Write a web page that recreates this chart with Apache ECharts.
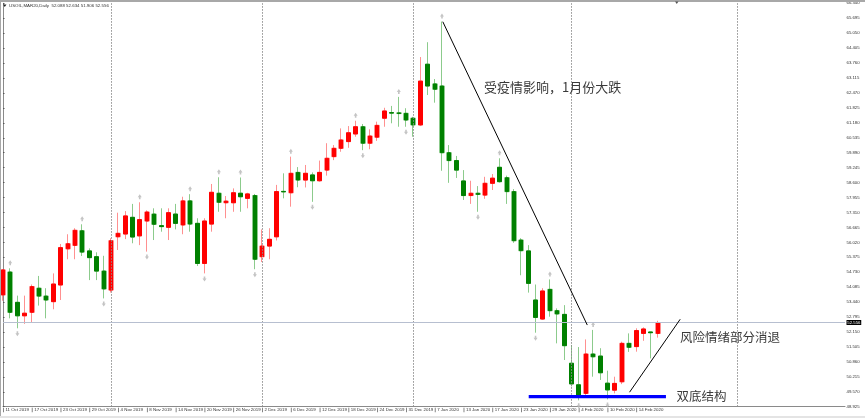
<!DOCTYPE html>
<html><head><meta charset="utf-8">
<script src="https://cdn.jsdelivr.net/npm/echarts@6/dist/echarts.min.js"></script>
<style>html,body{margin:0;padding:0;background:#fff}#c{width:865px;height:418px}</style>
</head><body><div id="c"></div>
<script>
const symbolName = 'USOIL,MAR20,Daily';
const dates = ['11 Oct 2019','14 Oct 2019','15 Oct 2019','16 Oct 2019','17 Oct 2019','18 Oct 2019','21 Oct 2019','22 Oct 2019','23 Oct 2019','24 Oct 2019','25 Oct 2019','28 Oct 2019','29 Oct 2019','30 Oct 2019','31 Oct 2019',
'1 Nov 2019','4 Nov 2019','5 Nov 2019','6 Nov 2019','7 Nov 2019','8 Nov 2019','11 Nov 2019','12 Nov 2019','13 Nov 2019','14 Nov 2019','15 Nov 2019','18 Nov 2019','19 Nov 2019','20 Nov 2019','21 Nov 2019','22 Nov 2019','25 Nov 2019','26 Nov 2019','27 Nov 2019','28 Nov 2019','29 Nov 2019',
'2 Dec 2019','3 Dec 2019','4 Dec 2019','5 Dec 2019','6 Dec 2019','9 Dec 2019','10 Dec 2019','11 Dec 2019','12 Dec 2019','13 Dec 2019','16 Dec 2019','17 Dec 2019','18 Dec 2019','19 Dec 2019','20 Dec 2019','23 Dec 2019','24 Dec 2019','26 Dec 2019','27 Dec 2019','30 Dec 2019','31 Dec 2019',
'2 Jan 2020','3 Jan 2020','6 Jan 2020','7 Jan 2020','8 Jan 2020','9 Jan 2020','10 Jan 2020','13 Jan 2020','14 Jan 2020','15 Jan 2020','16 Jan 2020','17 Jan 2020','20 Jan 2020','21 Jan 2020','22 Jan 2020','23 Jan 2020','24 Jan 2020','27 Jan 2020','28 Jan 2020','29 Jan 2020','30 Jan 2020','31 Jan 2020',
'3 Feb 2020','4 Feb 2020','5 Feb 2020','6 Feb 2020','7 Feb 2020','10 Feb 2020','11 Feb 2020','12 Feb 2020','13 Feb 2020','14 Feb 2020','17 Feb 2020','18 Feb 2020','19 Feb 2020'];
const opens = [53.75,54.74,53.43,52.85,53.00,54.04,53.70,53.46,54.18,55.74,55.89,56.52,55.65,55.40,54.78,
53.96,56.26,56.38,57.10,56.30,56.94,57.24,56.74,56.67,57.24,56.77,57.81,56.84,55.11,56.81,58.14,57.73,57.73,58.14,57.92,58.04,
55.40,55.86,56.26,58.22,58.16,59.04,58.71,58.93,58.68,59.14,59.72,60.08,60.37,60.70,61.01,60.30,60.56,61.38,61.62,61.61,61.59,
61.38,61.09,63.71,62.86,62.77,59.89,59.55,58.67,58.04,58.14,58.06,58.57,59.26,58.81,58.21,56.12,55.65,53.53,52.71,53.99,53.07,52.91,
50.80,49.87,49.50,51.20,51.11,49.94,49.64,50.00,51.66,51.52,52.09,52.15,52.088];
const highs = [54.84,54.90,53.72,53.72,54.20,54.57,54.04,54.68,55.95,56.37,56.63,56.80,55.76,55.59,55.44,
56.20,57.30,57.37,57.68,57.75,57.40,57.49,57.49,57.49,57.68,57.99,58.10,57.06,57.06,58.54,58.83,58.02,58.35,58.82,58.16,58.11,
56.58,56.63,58.50,59.00,59.72,59.27,59.36,59.04,59.55,60.30,60.22,60.94,61.04,61.27,61.13,60.90,61.23,61.83,61.91,62.30,61.81,
61.44,64.02,64.66,63.07,65.55,60.22,59.75,59.14,58.68,58.45,58.85,58.97,59.65,58.90,58.32,56.20,55.90,54.20,54.04,54.42,53.17,53.31,
51.59,51.50,51.83,52.24,51.45,50.48,50.22,51.73,52.09,52.31,52.35,52.16,52.634];
const lows = [53.50,52.74,52.31,52.50,52.57,53.29,52.74,53.13,53.53,55.29,55.29,55.43,54.39,54.39,53.60,
53.85,55.69,56.16,55.98,55.90,55.62,56.12,56.48,56.12,56.58,56.37,56.48,55.00,54.68,56.48,57.34,57.06,57.34,57.34,57.49,54.86,
55.17,55.29,56.10,57.92,57.56,58.40,58.39,57.77,58.64,58.90,59.57,59.93,60.10,60.58,60.00,60.04,60.40,61.01,61.16,61.01,61.01,
60.58,61.04,62.38,62.05,59.11,58.59,58.80,57.85,57.68,57.34,57.90,58.28,58.60,57.68,56.00,54.60,53.85,52.12,52.67,52.81,51.66,50.94,
49.80,49.20,49.43,50.22,50.08,49.24,49.50,49.90,51.29,51.30,51.77,51.01,51.906];
const closes = [54.83,53.00,52.85,52.96,54.11,53.70,53.53,54.22,55.79,55.96,56.54,55.60,55.36,54.78,54.01,
56.09,56.41,57.16,56.25,57.00,57.33,56.80,56.70,57.30,56.84,57.81,56.81,55.11,56.94,58.18,57.75,57.80,58.16,57.99,58.11,55.29,
55.86,56.15,58.21,58.20,59.00,58.71,59.00,58.68,59.04,59.65,60.08,60.44,60.75,61.01,60.30,60.61,61.07,61.69,61.60,61.58,61.30,
61.09,62.98,62.77,62.63,59.89,59.55,59.14,58.04,58.14,58.09,58.57,58.79,58.64,58.21,56.09,55.66,54.25,52.78,53.92,53.07,52.93,51.56,
49.91,49.36,51.20,51.08,50.39,49.65,49.93,51.66,51.49,52.21,52.28,52.12,52.556];
const upFractalIdx = [1,11,19,26,30,33,40,49,55,61,69,76,82];
const downFractalIdx = [2,14,20,28,35,43,50,56,66,74,80,84];
const monthGridIdx = [15,36,57,79,102];
const priceMin = 48.925, priceMax = 66.340, priceStep = 0.645;
const slotCount = 117;
const trendDown = [[61.11,65.545],[81.19,52.45]];
const trendUp = [[87.06,49.55],[94.1,52.70]];
const supportLine = [[73.05,49.357],[92.12,49.357]];

const wickData = dates.map((d,i)=>[i, opens[i], closes[i], lows[i], highs[i]]);
const bodyData = dates.map((d,i)=>[i, opens[i], closes[i], Math.min(opens[i],closes[i]), Math.max(opens[i],closes[i])]);
const last = dates.length - 1;
const titleText = symbolName + '  ' + opens[last].toFixed(3) + ' ' + highs[last].toFixed(3) + ' ' + lows[last].toFixed(3) + ' ' + closes[last].toFixed(3);
const upArrow = 'path://M5,0 L10,6 L7,6 L7,10 L3,10 L3,6 L0,6 Z';
const cjk = '"Noto Sans CJK SC", sans-serif';

const chart = echarts.init(document.getElementById('c'), null, {renderer:'canvas'});
chart.setOption({
  animation:false,
  backgroundColor:'#fff',
  grid:{left:2, right:20, top:3.3, bottom:11.3},
  xAxis:{type:'value', min:0, max:slotCount, interval:4,
    axisLine:{show:true, lineStyle:{color:'#8a8a8a'}},
    axisTick:{show:false},
    splitLine:{show:false},
    axisLabel:{align:'left', margin:1, fontSize:4.4, color:'#333', fontFamily:'Liberation Sans',
      formatter:v=> (v%4===0 && v<dates.length) ? '{t|}{d|'+dates[v]+'}' : '',
      rich:{t:{width:0.8, height:4.5, backgroundColor:'#666'}, d:{fontSize:4.4, color:'#333', padding:[0,0,0,1.6], fontFamily:'Liberation Sans'}}}
  },
  yAxis:{type:'value', position:'right', min:priceMin, max:priceMax, interval:priceStep,
    axisLine:{show:true, lineStyle:{color:'#8a8a8a'}},
    axisTick:{show:true, length:1.5, lineStyle:{color:'#555'}},
    splitLine:{show:false},
    axisLabel:{fontSize:4.3, color:'#333', margin:1.5, fontFamily:'Liberation Sans', formatter:v=>v.toFixed(3)}
  },
  graphic:[
    {type:'rect', shape:{x:0,y:0,width:865,height:2}, style:{fill:'#a8a8a8'}, z:100},
    {type:'rect', shape:{x:0,y:0,width:1,height:418}, style:{fill:'#a8a8a8'}, z:100},
    {type:'rect', shape:{x:0,y:416,width:865,height:2}, style:{fill:'#e4e4e4'}, z:100},
    {type:'polygon', shape:{points:[[3,4.5],[6.5,4.5],[4.75,7]]}, style:{fill:'#222'}, z:100},
    {type:'polygon', shape:{points:[[675,1.5],[678.5,1.5],[676.75,4]]}, style:{fill:'#555'}, z:100},
    {type:'text', x:9, y:5.8, style:{text:titleText, fontSize:4.4, fill:'#333', fontFamily:'Liberation Sans', verticalAlign:'middle'}, z:100},
    {type:'text', x:484, y:87.5, style:{text:'受疫情影响，1月份大跌', fontSize:13, fill:'#3a3a3a', fontFamily:cjk, verticalAlign:'middle'}, z:100},
    {type:'text', x:680, y:337, style:{text:'风险情绪部分消退', fontSize:12.5, fill:'#3a3a3a', fontFamily:cjk, verticalAlign:'middle'}, z:100},
    {type:'text', x:676.5, y:396, style:{text:'双底结构', fontSize:12.5, fill:'#3a3a3a', fontFamily:cjk, verticalAlign:'middle'}, z:100}
  ],
  series:[
    {type:'candlestick', data:wickData, barWidth:5, z:2, silent:true,
      itemStyle:{color:'#ff9090', color0:'#8ccb8c', borderColor:'#ff9090', borderColor0:'#8ccb8c', borderWidth:1},
      markLine:{silent:true, symbol:['none','none'], animation:false, label:{show:false},
        lineStyle:{type:[1.5,1.5], color:'#8c8c8c', width:1},
        data: monthGridIdx.map(i=>({xAxis:i}))}
    },
    {type:'candlestick', data:bodyData, barWidth:4, z:3, silent:true,
      itemStyle:{color:'#ff0000', color0:'#008000', borderColor:'#ff0000', borderColor0:'#008000', borderWidth:1},
      markLine:{silent:true, symbol:['none','none'], animation:false,
        lineStyle:{type:'solid', color:'#b7bfd0', width:1},
        label:{show:true, position:'end', distance:1.5, formatter:closes[last].toFixed(3), backgroundColor:'#000', color:'#fff', fontSize:4.3, padding:[0.6,0.8,0.4,0.8], fontFamily:'Liberation Sans'},
        data:[{yAxis:closes[last]}]}
    },
    {type:'scatter', silent:true, z:4, data:upFractalIdx.map(i=>[i, highs[i]]), symbol:upArrow, symbolSize:[4,5], symbolOffset:[0,-5.5],
      itemStyle:{color:'#b5b5b5'}},
    {type:'scatter', silent:true, z:4, data:downFractalIdx.map(i=>[i, lows[i]]), symbol:upArrow, symbolRotate:180, symbolSize:[4,5], symbolOffset:[0,5.5],
      itemStyle:{color:'#b5b5b5'}},
    {type:'line', silent:true, z:5, data:trendDown, symbol:'none', lineStyle:{color:'#000', width:1}},
    {type:'line', silent:true, z:5, data:trendUp, symbol:'none', lineStyle:{color:'#000', width:1}},
    {type:'line', silent:true, z:5, data:supportLine, symbol:'none', lineStyle:{color:'#0000ff', width:3.3}}
  ]
});
</script></body></html>
